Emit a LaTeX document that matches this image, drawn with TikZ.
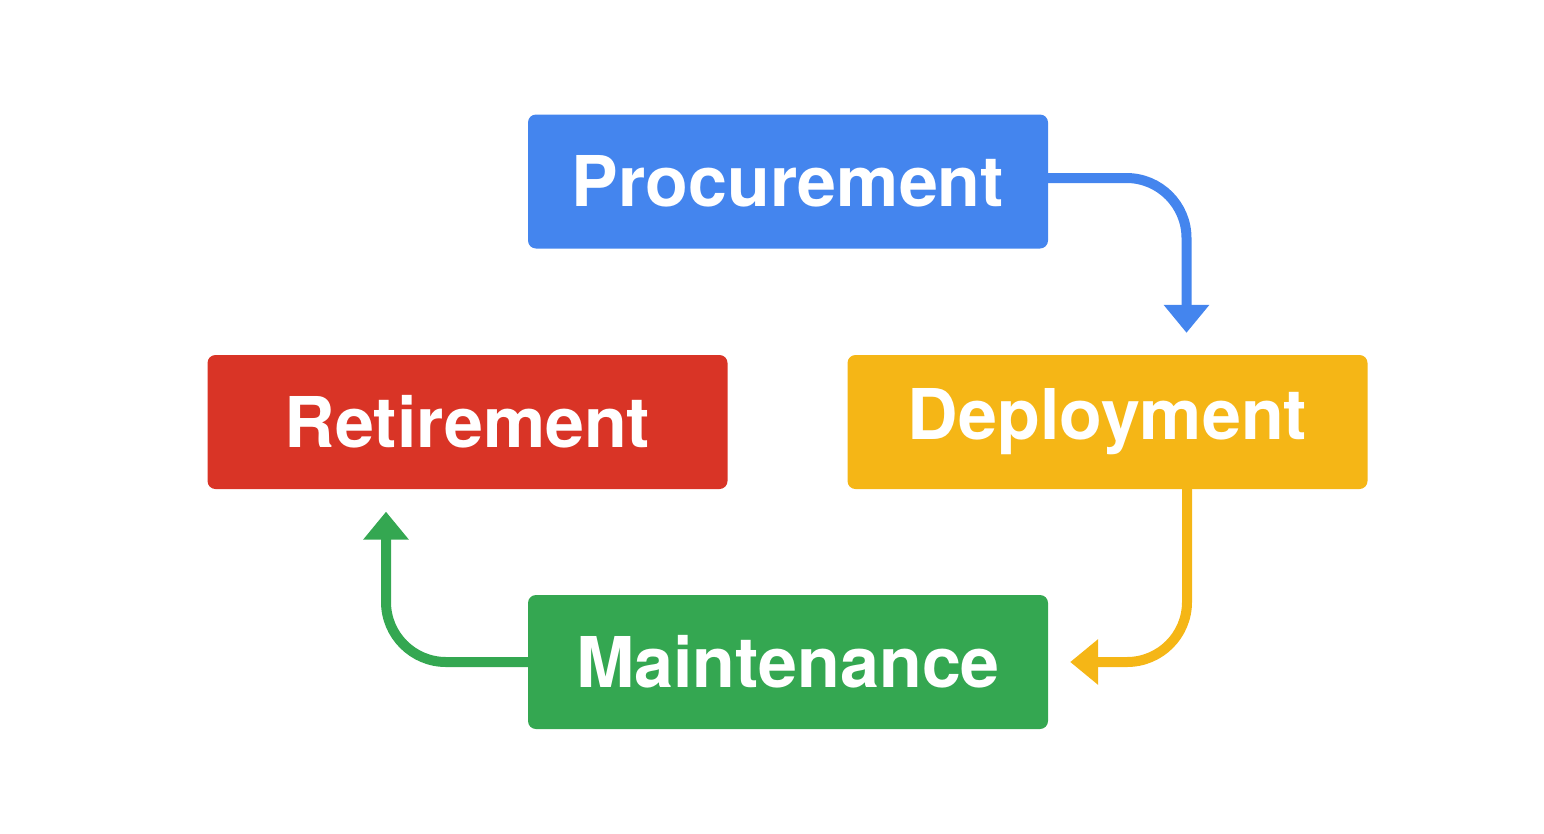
\documentclass[tikz,border=0pt]{standalone}
\usepackage{fontspec}
\setmainfont{TeX Gyre Heros}
\usetikzlibrary{arrows.meta}
\definecolor{gblue}{HTML}{4485EE}
\definecolor{gred}{HTML}{D93426}
\definecolor{gyellow}{HTML}{F5B616}
\definecolor{ggreen}{HTML}{34A751}
\begin{document}
\begin{tikzpicture}[x=1pt,y=1pt,
    stage/.style={rounded corners=8pt, minimum width=520pt, minimum height=134pt,
                  inner sep=0pt, text=white, font=\bfseries\fontsize{70}{84}\selectfont},
    flow/.style={line width=10pt, rounded corners=60pt,
                 -{Triangle[width=44pt,length=28pt]}}]
  \useasboundingbox (0,0) rectangle (1544,-833);
  % the four stages
  \node [stage, fill=gblue]   (proc) at (788,-181.5)  {Procurement};
  \node [stage, fill=gred]    (ret)  at (467.5,-422)  {Retirement};
  \node [stage, fill=gyellow] (depl) at (1107.5,-422) {Deployment};
  \node [stage, fill=ggreen]  (main) at (788,-662)    {Maintenance};
  % the cycle
  \draw [flow, gblue] ([yshift=3.5pt]proc.east) -| ([shift={(79pt,22pt)}]depl.north);
  \draw [flow, gyellow] ([xshift=79.5pt]depl.south) |- ([xshift=22pt]main.east);
  \draw [flow, ggreen] (main.west) -| ([shift={(-81.5pt,-22.5pt)}]ret.south);
\end{tikzpicture}
\end{document}
